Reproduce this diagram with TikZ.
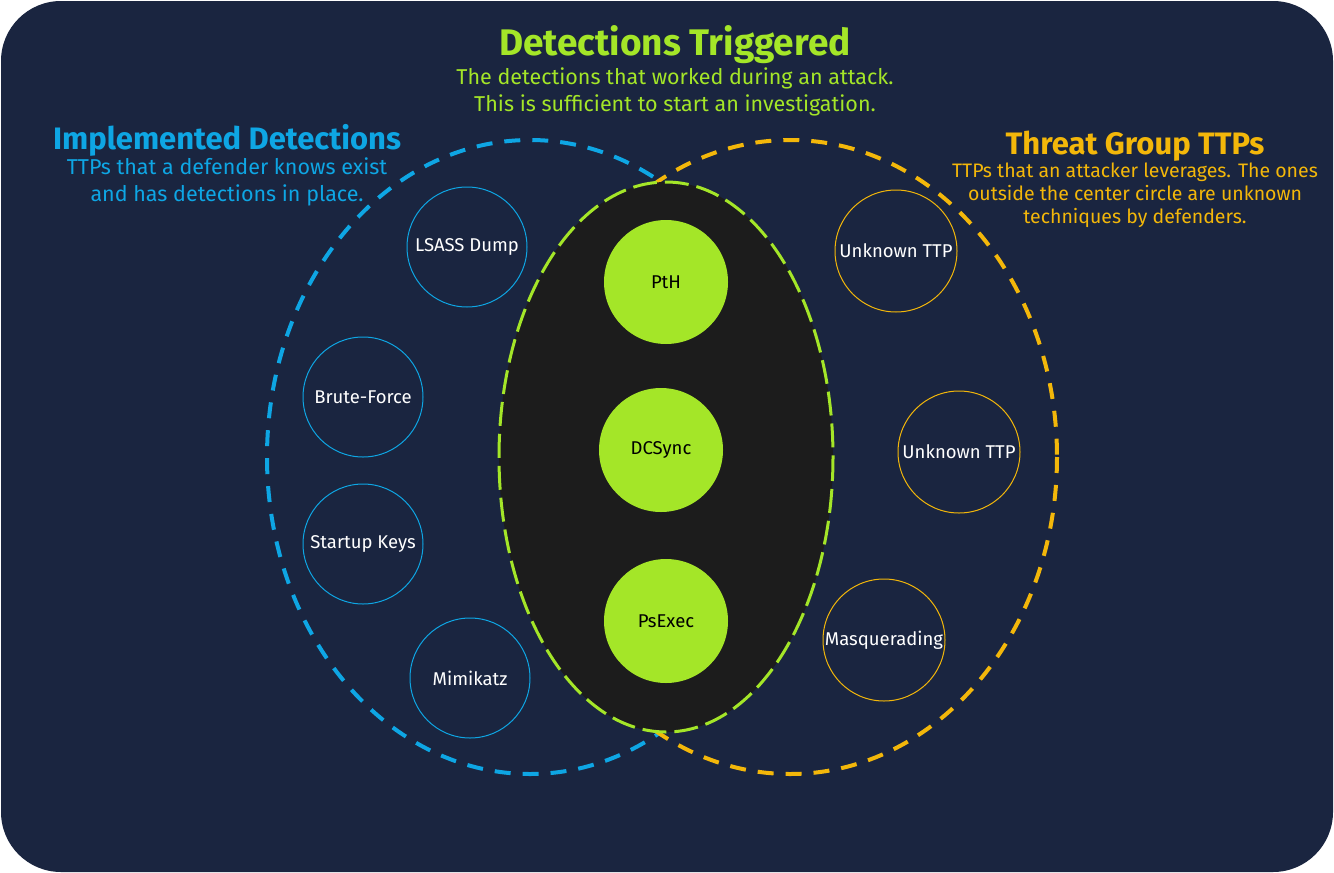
\documentclass[tikz,border=0pt]{standalone}
\usepackage{fontspec}
\setmainfont{Fira Sans}
\usepackage{tikz}
\usetikzlibrary{positioning}
\usepackage{xcolor}
\definecolor{navy}{RGB}{26,37,64}
\definecolor{limegreen}{RGB}{164,230,40}
\definecolor{skyblue}{RGB}{14,166,228}
\definecolor{amber}{RGB}{243,183,10}
\definecolor{coal}{RGB}{28,28,28}
\begin{document}
\begin{tikzpicture}[
        x=1pt, y=-1pt,
        bluettp/.style={circle, draw=skyblue, line width=1pt, text=white, minimum size=120pt, inner sep=0pt, font=\fontsize{18.5}{20}\selectfont},
        amberttp/.style={circle, draw=amber, line width=1pt, text=white, minimum size=122pt, inner sep=0pt, font=\fontsize{18.5}{20}\selectfont},
        greenttp/.style={circle, fill=limegreen, text=black, minimum size=124pt, inner sep=0pt, font=\fontsize{18.5}{20}\selectfont},
        heading/.style={font=\fontsize{37}{40}\selectfont\bfseries},
        caption/.style={align=center, font=\fontsize{21.5}{27}\selectfont}
    ]
        % Background
        \useasboundingbox (0, 0) rectangle (1334, 873);
        \fill[white] (0, 0) rectangle (1334, 873);
        \fill[navy, rounded corners=60pt] (1, 1) rectangle (1333, 872);
        % Sets
        \draw[skyblue, line width=4pt, dash pattern=on 16pt off 12pt] (530, 457) ellipse [x radius=263, y radius=317];
        \draw[amber, line width=4pt, dash pattern=on 16pt off 12pt] (790, 457) ellipse [x radius=267, y radius=317];
        \draw[limegreen, fill=coal, line width=3pt, dash pattern=on 24pt off 8pt] (666, 457) ellipse [x radius=167, y radius=275];
        % Triggered
        \node[greenttp] (pth) at (666, 282) {PtH};
        \node[greenttp] (dcsync) at (661, 450) {DCSync};
        \node[greenttp] (psexec) at (666, 621) {PsExec};
        % Implemented
        \foreach \name/\pos/\ttp in {
            lsass/{467,247}/LSASS Dump,
            brute/{363,397}/Brute-Force,
            startup/{363,544}/Startup Keys,
            mimikatz/{470,678}/Mimikatz} {
            \node[bluettp] (\name) at (\pos) {\ttp};
        }
        % Threat group
        \foreach \name/\pos/\ttp in {
            unknowna/{896,251}/Unknown TTP,
            unknownb/{959,452}/Unknown TTP,
            masq/{884,640}/Masquerading} {
            \node[amberttp] (\name) at (\pos) {\ttp};
        }
        % Titles
        \node[heading, text=limegreen] (trigtitle) at (675, 45) {Detections Triggered};
        \node[caption, text=limegreen, below=-3pt of trigtitle] (trigtext) {The detections that worked during an attack.\\This is sufficient to start an investigation.};
        \node[heading, text=skyblue, font=\fontsize{31}{34}\selectfont\bfseries] (impltitle) at (227, 140) {Implemented Detections};
        \node[caption, text=skyblue, below=-5pt of impltitle] (impltext) {TTPs that a defender knows exist\\and has detections in place.};
        \node[heading, text=amber, font=\fontsize{31}{34}\selectfont\bfseries] (threattitle) at (1135, 146) {Threat Group TTPs};
        \node[caption, text=amber, below=-5pt of threattitle, font=\fontsize{19.5}{23}\selectfont] (threattext) {TTPs that an attacker leverages. The ones\\outside the center circle are unknown\\techniques by defenders.};
    \end{tikzpicture}
\end{document}
